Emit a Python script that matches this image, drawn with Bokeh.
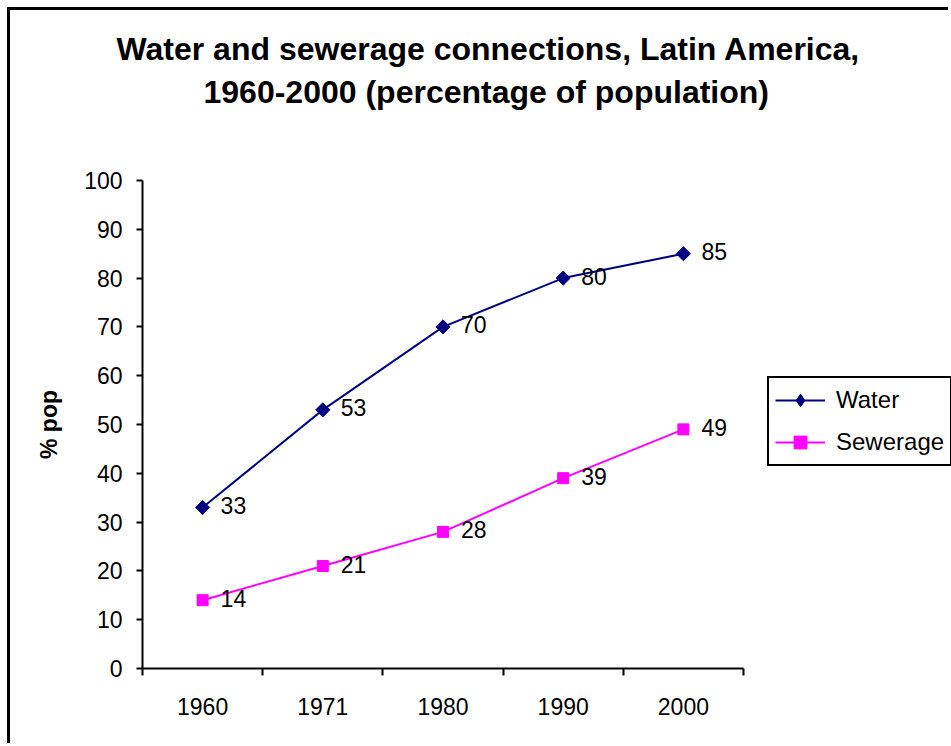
from math import pi

from bokeh.core.properties import value
from bokeh.embed import file_html
from bokeh.models import (ColumnDataSource, FixedTicker, Legend, LegendItem,
                          Range1d, Title)
from bokeh.plotting import figure
from bokeh.resources import INLINE

# Survey years (categories) and coverage, % of population
years = ["1960", "1971", "1980", "1990", "2000"]
water = [33, 53, 70, 80, 85]
sewerage = [14, 21, 28, 39, 49]
y_ticks = [0, 10, 20, 30, 40, 50, 60, 70, 80, 90, 100]

FONT = "Liberation Sans"
OFF = 10                     # canvas starts inside the outer border
W, H = 951, 746
AX_L, AX_R = 142, 743        # horizontal extent of the category axis
PLOT_T, PLOT_B = 180, 668    # vertical extent of the value axis

# categories sit in the middle of unit-wide slots, Excel style;
# the frame runs on to the right edge so the legend has room there
n = len(years)
xpos = [i + 0.5 for i in range(n)]
x_end = n * (W - AX_L) / (AX_R - AX_L)

src = ColumnDataSource(dict(
    x=xpos, water=water, sewerage=sewerage,
    water_lbl=[str(v) for v in water],
    sew_lbl=[str(v) for v in sewerage],
))

p = figure(width=W - OFF, height=H - OFF, output_backend="svg",
           toolbar_location=None,
           x_range=Range1d(0, x_end), y_range=Range1d(0, 100),
           min_border_left=AX_L - OFF, min_border_right=0,
           min_border_top=PLOT_T - OFF, min_border_bottom=H - PLOT_B,
           styles={"margin-left": "7px", "margin-top": "7px",
                   "border-left": "3px solid black",
                   "border-top": "3px solid black"})
p.title = None
p.background_fill_color = "white"
p.border_fill_color = "white"
p.outline_line_color = None
p.xgrid.visible = False
p.ygrid.visible = False

# y axis
yax = p.yaxis[0]
yax.ticker = FixedTicker(ticks=y_ticks)
yax.axis_line_color = "black"
yax.axis_line_width = 2
yax.major_tick_line_color = "black"
yax.major_tick_line_width = 2
yax.major_tick_out = 6
yax.major_tick_in = 0
yax.minor_tick_line_color = None
yax.major_label_text_font = FONT
yax.major_label_text_font_size = "23px"
yax.major_label_text_color = "black"
yax.major_label_standoff = 14
yax.axis_label = "% pop"
yax.axis_label_text_font = FONT
yax.axis_label_text_font_size = "23px"
yax.axis_label_text_font_style = "bold"
yax.axis_label_text_color = "black"
yax.axis_label_standoff = 19

# x axis: ticks on slot boundaries, labels in slot centres
xax = p.xaxis[0]
xax.bounds = (0, n)
xax.ticker = FixedTicker(ticks=xpos, minor_ticks=list(range(n + 1)))
xax.major_label_overrides = {x: y for x, y in zip(xpos, years)}
xax.axis_line_color = "black"
xax.axis_line_width = 2
xax.major_tick_line_color = None
xax.major_tick_out = 0
xax.major_tick_in = 0
xax.minor_tick_line_color = "black"
xax.minor_tick_line_width = 2
xax.minor_tick_out = 7
xax.minor_tick_in = 0
xax.major_label_text_font = FONT
xax.major_label_text_font_size = "23px"
xax.major_label_text_color = "black"
xax.major_label_standoff = 22

# series
WATER_C = "#000080"
SEW_C = "#FF00FF"
wl = p.line("x", "water", source=src, line_color=WATER_C, line_width=2)
ws = p.scatter("x", "water", source=src, marker="square", angle=pi / 4, size=10,
               fill_color=WATER_C, line_color=WATER_C)
sl = p.line("x", "sewerage", source=src, line_color=SEW_C, line_width=2)
ss = p.scatter("x", "sewerage", source=src, marker="square", size=11,
               fill_color=SEW_C, line_color=SEW_C)
# legend swatch for the water markers (the legend ignores marker angle)
wkey = p.scatter("x", "water", source=src, marker="diamond", size=15,
                 fill_color=WATER_C, line_color=WATER_C, visible=False)

# value labels to the right of each point
for col, lbl in (("water", "water_lbl"), ("sewerage", "sew_lbl")):
    p.text("x", col, text=lbl, source=src, x_offset=18, y_offset=-2,
           text_font=value(FONT), text_font_size="23px", text_color="black",
           text_baseline="middle", text_align="left")

# chart title: a spacer above the plot, then the two lines stacked upward
p.add_layout(Title(text=" ", text_font_size="1px", standoff=68), "above")
title_lines = ["Water and sewerage connections, Latin America,",
               "1960-2000 (percentage of population)"]
title_offsets = [-26, 61]
title_standoffs = [9, 0]
for txt, off, so in reversed(list(zip(title_lines, title_offsets, title_standoffs))):
    p.add_layout(Title(text=txt, align="left", offset=off, standoff=so,
                       text_font=FONT, text_font_size="32px",
                       text_font_style="bold", text_color="black"), "above")

legend = Legend(items=[LegendItem(label="Water", renderers=[wl, wkey]),
                       LegendItem(label="Sewerage", renderers=[sl, ss])],
                location=(767 - AX_L, PLOT_B - 466))
legend.label_text_font = FONT
legend.label_text_font_size = "24px"
legend.label_text_color = "black"
legend.glyph_width = 50
legend.glyph_height = 32
legend.label_standoff = 11
legend.padding = 6
legend.spacing = 10
legend.margin = 0
legend.border_line_color = "black"
legend.border_line_alpha = 1
legend.border_line_width = 2
legend.background_fill_color = "white"
legend.background_fill_alpha = 1
p.add_layout(legend)

open("out.html", "w").write(file_html(p, INLINE))
